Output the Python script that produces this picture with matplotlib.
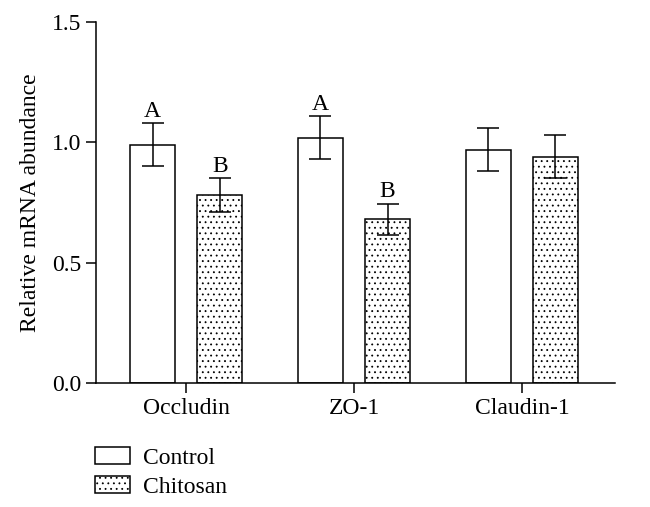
import numpy as np
import matplotlib.pyplot as plt

genes = ["Occludin", "ZO-1", "Claudin-1"]
control = [0.99, 1.02, 0.97]
control_err = [0.09, 0.09, 0.09]
chitosan = [0.78, 0.68, 0.94]
chitosan_err = [0.07, 0.065, 0.09]
control_letters = ["A", "A", ""]
chitosan_letters = ["B", "B", ""]

plt.rcParams['font.family'] = ['Liberation Serif', 'DejaVu Serif']
plt.rcParams['hatch.linewidth'] = 0.6
plt.rcParams['axes.linewidth'] = 1.1

fig = plt.figure(figsize=(6.5, 5.07), dpi=100)
ax = fig.add_axes([0.148, 0.2446, 0.798, 0.712])

x = np.arange(len(genes))
w = 0.27
off = 0.2
fs = 17
ekw = dict(elinewidth=1.1, capthick=1.1)
b1 = ax.bar(x - off, control, w, yerr=control_err, color="white", edgecolor="black",
            linewidth=1.1, capsize=8, error_kw=ekw, label="Control")
b2 = ax.bar(x + off, chitosan, w, yerr=chitosan_err, color="white", edgecolor="black",
            linewidth=1.1, hatch="...", capsize=8, error_kw=ekw, label="Chitosan")

for i in range(len(genes)):
    ax.text(x[i] - off, control[i] + control_err[i] + 0.005, control_letters[i],
            ha="center", va="bottom", fontsize=fs)
    ax.text(x[i] + off, chitosan[i] + chitosan_err[i] + 0.005, chitosan_letters[i],
            ha="center", va="bottom", fontsize=fs)

ax.set_xlim(-0.536, 2.554)
ax.set_ylim(0, 1.5)
ax.set_yticks([0.0, 0.5, 1.0, 1.5])
ax.set_yticklabels(["0.0", "0.5", "1.0", "1.5"])
ax.set_xticks(x)
ax.set_xticklabels(genes)
ax.spines['top'].set_visible(False)
ax.spines['right'].set_visible(False)
ax.tick_params(axis="both", labelsize=fs, length=7, width=1.1)
ax.set_ylabel("Relative mRNA abundance", fontsize=fs, labelpad=8)

fig.legend(handles=[b1, b2], loc="upper left", bbox_to_anchor=(0.146, 0.119),
           frameon=False, fontsize=fs, handlelength=1.48, handleheight=0.76,
           labelspacing=0.3, handletextpad=0.55, borderaxespad=0, borderpad=0)

fig.savefig("out.png", dpi=100)
